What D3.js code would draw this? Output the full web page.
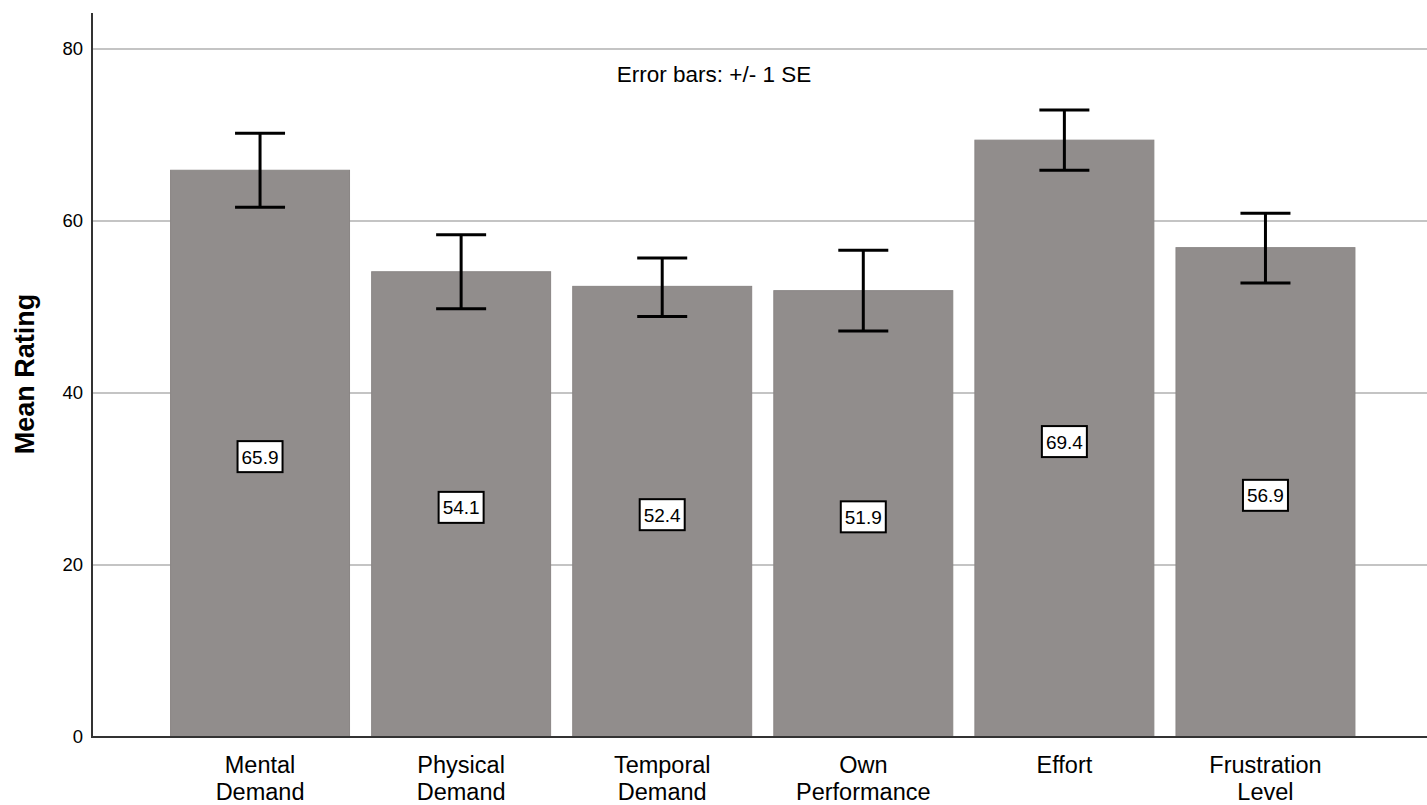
<!DOCTYPE html>
<html><head><meta charset="utf-8">
<script src="https://cdn.jsdelivr.net/npm/d3@7"></script>
<style>body{margin:0;background:#fff}svg{display:block;font-family:"Liberation Sans",Arial,sans-serif}</style>
</head><body>
<svg id="c" width="1427" height="805"></svg>
<script>
const categories = [["Mental","Demand"],["Physical","Demand"],["Temporal","Demand"],["Own","Performance"],["Effort"],["Frustration","Level"]];
const means = [65.9, 54.1, 52.4, 51.9, 69.4, 56.9];
const seLow = [61.6, 49.8, 48.9, 47.2, 65.9, 52.8];
const seHigh = [70.2, 58.4, 55.7, 56.6, 72.9, 60.9];
const yTicks = [0, 20, 40, 60, 80];

const svg = d3.select("#c");
const axisX = 92, x0 = 159.5, x1 = 1366;
const y = d3.scaleLinear().domain([0, 80]).range([737, 49]);
const keys = categories.map((c,i)=>i);
const x = d3.scaleBand().domain(keys).range([x0, x1]).paddingInner(0.11).paddingOuter(0.055);

// gridlines
svg.append("g").selectAll("line").data(yTicks.filter(d=>d>0)).join("line")
  .attr("x1", axisX).attr("x2", 1427).attr("y1", d=>y(d)).attr("y2", d=>y(d))
  .attr("stroke", "#c4c4c4").attr("stroke-width", 2);

// y axis
const ya = svg.append("g").attr("transform", `translate(${axisX},0)`)
  .call(d3.axisLeft(y).tickValues(yTicks).tickSize(0).tickPadding(9));
ya.select(".domain").remove();
ya.selectAll("text").attr("font-size", 18.5).attr("fill", "#000").attr("font-family", "Liberation Sans, Arial, sans-serif");
svg.append("line").attr("x1", axisX).attr("x2", axisX).attr("y1", 13).attr("y2", 738)
  .attr("stroke", "#333").attr("stroke-width", 2);

// bars
svg.append("g").selectAll("rect").data(means).join("rect")
  .attr("x", (d,i)=>x(i)).attr("width", x.bandwidth())
  .attr("y", d=>y(d)).attr("height", d=>y(0)-y(d))
  .attr("fill", "#918d8c").attr("stroke", "#8a8685").attr("stroke-width", 1);

// x axis line
svg.append("line").attr("x1", axisX).attr("x2", 1427).attr("y1", 737).attr("y2", 737)
  .attr("stroke", "#333").attr("stroke-width", 2);

// error bars
const eb = svg.append("g").attr("stroke", "#000").attr("stroke-width", 3);
means.forEach((m,i)=>{
  const cx = x(i) + x.bandwidth()/2;
  eb.append("line").attr("x1", cx).attr("x2", cx).attr("y1", y(seHigh[i])).attr("y2", y(seLow[i]));
  eb.append("line").attr("x1", cx-25).attr("x2", cx+25).attr("y1", y(seHigh[i])).attr("y2", y(seHigh[i]));
  eb.append("line").attr("x1", cx-25).attr("x2", cx+25).attr("y1", y(seLow[i])).attr("y2", y(seLow[i]));
});

// value labels
const lab = svg.append("g");
means.forEach((m,i)=>{
  const cx = x(i) + x.bandwidth()/2, cy = y(m/2) + 3;
  lab.append("rect").attr("x", cx-22.5).attr("y", cy-15.5).attr("width", 45).attr("height", 31)
    .attr("fill", "#fff").attr("stroke", "#000").attr("stroke-width", 2);
  lab.append("text").attr("x", cx).attr("y", cy+7).attr("text-anchor", "middle")
    .attr("font-size", 19).text(m.toFixed(1));
});

// x labels
const xl = svg.append("g");
categories.forEach((lines,i)=>{
  const cx = x(i) + x.bandwidth()/2;
  const t = xl.append("text").attr("text-anchor", "middle").attr("font-size", 23.5).attr("fill", "#000");
  lines.forEach((s,j)=>{
    t.append("tspan").attr("x", cx).attr("y", 773 + j*26.5).text(s);
  });
});

// y title
svg.append("text").attr("transform", "translate(34,374) rotate(-90)")
  .attr("text-anchor", "middle").attr("font-size", 27).attr("font-weight", "bold").text("Mean Rating");

// annotation
svg.append("text").attr("x", 714).attr("y", 82).attr("text-anchor", "middle")
  .attr("font-size", 22.5).text("Error bars: +/- 1 SE");
</script>
</body></html>
